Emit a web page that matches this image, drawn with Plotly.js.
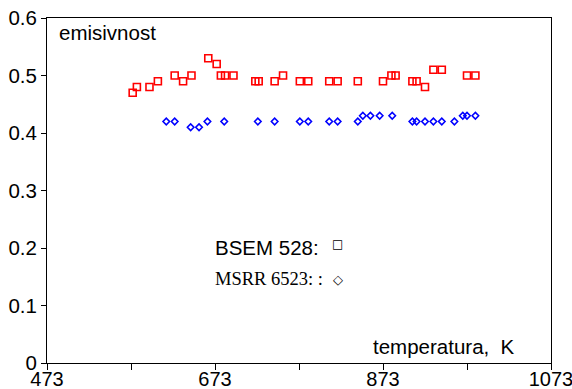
<!DOCTYPE html>
<html>
<head>
<meta charset="utf-8">
<script src="https://cdn.plot.ly/plotly-3.0.1.min.js"></script>
<style>
html,body{margin:0;padding:0;background:#fff;}
#chart{width:572px;height:389px;}
</style>
</head>
<body>
<div id="chart"></div>
<script>
// Data
const temperatureBSEM = [575,580,595,605,625,635,645,665,675,680,685,695,721,725,744,754,774,784,809,819,843,873,883,888,908,913,923,933,943,973,983];
const emissivityBSEM = [0.47,0.48,0.48,0.49,0.50,0.49,0.50,0.53,0.52,0.50,0.50,0.50,0.49,0.49,0.49,0.50,0.49,0.49,0.49,0.49,0.49,0.49,0.50,0.50,0.49,0.49,0.48,0.51,0.51,0.50,0.50];
const temperatureMSRR = [615,625,644,654,664,684,724,744,774,784,809,819,843,849,858,869,884,908,913,923,933,943,958,968,973,983];
const emissivityMSRR = [0.42,0.42,0.41,0.41,0.42,0.42,0.42,0.42,0.42,0.42,0.42,0.42,0.42,0.43,0.43,0.43,0.43,0.42,0.42,0.42,0.42,0.42,0.42,0.43,0.43,0.43];
const xTickVals = [473,573,673,773,873,973,1073];
const xTickText = ['473','','673','','873','','1073'];
const yTickVals = [0,0.1,0.2,0.3,0.4,0.5,0.6];
const yTickText = ['0','0.1','0.2','0.3','0.4','0.5','0.6'];

const sans = 'Liberation Sans, Arial, sans-serif';
const serif = 'Liberation Serif, Times New Roman, serif';

const traces = [
  {
    x: temperatureBSEM, y: emissivityBSEM, type: 'scatter', mode: 'markers', name: 'BSEM 528',
    marker: {symbol: 'square-open', size: 7, color: '#ff0000', line: {width: 1.6, color: '#ff0000'}}
  },
  {
    x: temperatureMSRR, y: emissivityMSRR, type: 'scatter', mode: 'markers', name: 'MSRR 6523',
    marker: {symbol: 'diamond-open', size: 5, color: '#0000ff', line: {width: 1.6, color: '#0000ff'}}
  }
];

const layout = {
  width: 572, height: 389,
  margin: {l: 47, r: 21, t: 18, b: 26, pad: 0},
  paper_bgcolor: '#ffffff', plot_bgcolor: '#ffffff',
  showlegend: false,
  font: {family: sans, size: 20, color: '#000'},
  xaxis: {
    range: [473, 1073], tickmode: 'array', tickvals: xTickVals, ticktext: xTickText,
    showgrid: false, zeroline: false, showline: true, linecolor: '#000', linewidth: 1, mirror: true,
    ticks: 'outside', ticklen: 6, tickwidth: 1, tickcolor: '#000',
    ticklabelstandoff: -8, ticklabeloverflow: 'allow',
    tickfont: {family: sans, size: 20, color: '#000'}
  },
  yaxis: {
    range: [0, 0.6], tickmode: 'array', tickvals: yTickVals, ticktext: yTickText,
    showgrid: false, zeroline: false, showline: true, linecolor: '#000', linewidth: 1, mirror: true,
    ticks: 'outside', ticklen: 5, tickwidth: 1, tickcolor: '#000',
    ticklabeloverflow: 'allow',
    tickfont: {family: sans, size: 20.5, color: '#000'}
  },
  annotations: [
    {text: 'emisivnost', xref: 'paper', yref: 'paper', x: 0.02, y: 0.957, xanchor: 'left', yanchor: 'middle', showarrow: false, font: {family: sans, size: 20.5, color: '#000'}},
    {text: 'temperatura,\u00a0 K', xref: 'paper', yref: 'paper', x: 0.932, y: 0.047, xanchor: 'right', yanchor: 'middle', showarrow: false, font: {family: sans, size: 20.5, color: '#000'}},
    {text: 'BSEM 528:', xref: 'paper', yref: 'paper', x: (213-47)/504, y: (363.3-247.5)/345, xanchor: 'left', yanchor: 'middle', showarrow: false, font: {family: sans, size: 20.5, color: '#000'}},
    {text: '\u25A1', xref: 'paper', yref: 'paper', x: (337-47)/504, y: (363.3-244.5)/345, xanchor: 'center', yanchor: 'middle', showarrow: false, font: {family: 'DejaVu Sans', size: 12, color: '#000'}},
    {text: 'MSRR 6523:\u00a0:', xref: 'paper', yref: 'paper', x: (213-47)/504, y: (363.3-279)/345, xanchor: 'left', yanchor: 'middle', showarrow: false, font: {family: serif, size: 18.5, color: '#000'}},
    {text: '\u25C7', xref: 'paper', yref: 'paper', x: (338-47)/504, y: (363.3-279.5)/345, xanchor: 'center', yanchor: 'middle', showarrow: false, font: {family: 'DejaVu Sans', size: 13, color: '#000'}}
  ]
};

Plotly.newPlot('chart', traces, layout, {staticPlot: true, displayModeBar: false});
</script>
</body>
</html>
